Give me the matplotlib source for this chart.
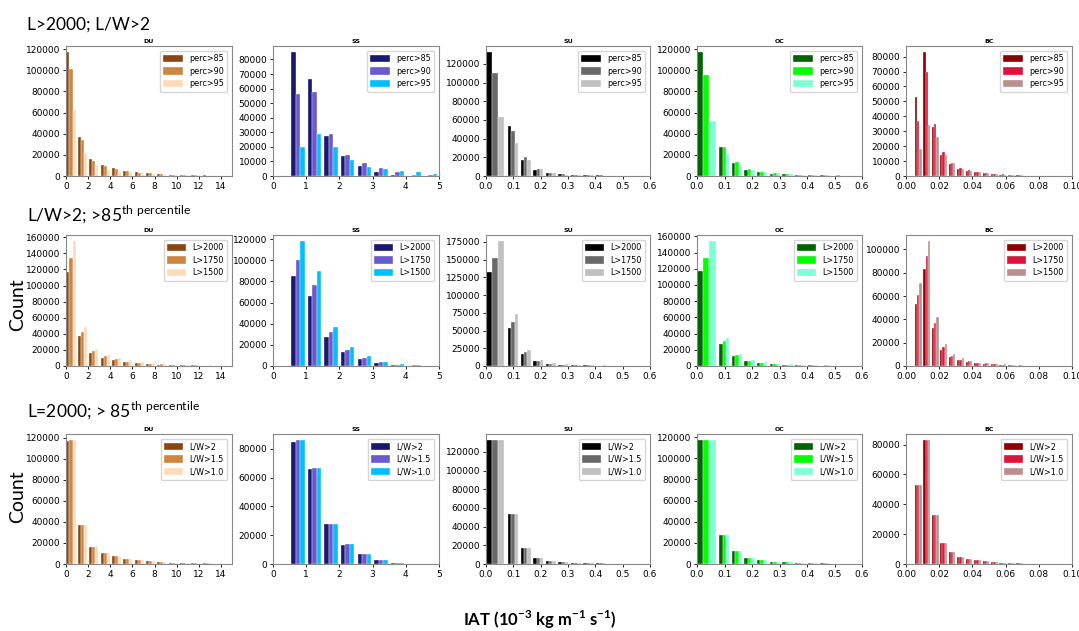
import numpy as np
import matplotlib
matplotlib.use('Agg')
import matplotlib.pyplot as plt
from matplotlib.ticker import MultipleLocator

# bin edges (x units of each species)
du_edges = [-0.08, 0.98, 2.0, 3.02, 4.05, 5.07, 6.1, 7.12, 8.15, 9.17, 10.2, 11.22, 12.25, 13.27, 14.3]
ss_edges = [0.5, 1.0, 1.5, 2.0, 2.5, 3.0, 3.5, 4.0, 4.5, 5.0]
su_edges = [-0.01, 0.076, 0.122, 0.168, 0.214, 0.26, 0.306, 0.352, 0.398, 0.444, 0.49, 0.536, 0.582]
oc_edges = [-0.01, 0.076, 0.122, 0.168, 0.214, 0.26, 0.306, 0.352, 0.398, 0.444, 0.49, 0.536, 0.582]
bc_edges = [0.0048, 0.0099, 0.015, 0.0201, 0.0252, 0.0303, 0.0354, 0.0405, 0.0456, 0.0507, 0.0558, 0.0609, 0.066, 0.0711]

# row 1: L>2000; L/W>2 -- perc>85, perc>90, perc>95
du_perc = [
	[117000, 37000, 16500, 10500, 7500, 5000, 3500, 2500, 1800, 1300, 1000, 700, 500, 400],
	[101000, 34000, 14000, 9000, 6500, 4700, 3300, 2400, 1600, 1200, 900, 600, 450, 350],
	[62000, 22000, 10000, 6000, 4500, 3500, 2500, 1800, 1200, 900, 700, 500, 350, 250]]
ss_perc = [
	[85000, 66500, 27500, 13500, 7000, 3000, 1000, 300, 100],
	[56000, 57500, 28500, 14500, 9000, 5500, 2500, 1000, 500],
	[20000, 28500, 20000, 11000, 6000, 5000, 3500, 2800, 1500]]
su_perc = [
	[132500, 53000, 17000, 6500, 3000, 1800, 1200, 800, 600, 400, 300, 200],
	[110000, 48000, 20000, 8000, 3500, 2000, 1300, 900, 600, 400, 300, 200],
	[63000, 35000, 17000, 8000, 3000, 1500, 1000, 700, 500, 300, 200, 150]]
oc_perc = [
	[117000, 27500, 12000, 6000, 3500, 2000, 1500, 1200, 800, 600, 400, 300],
	[95000, 27500, 13500, 6500, 4000, 2500, 1800, 1300, 900, 700, 500, 400],
	[52000, 21000, 10500, 6000, 3500, 2500, 1500, 1000, 800, 600, 400, 300]]
bc_perc = [
	[53000, 83000, 33000, 14000, 8000, 5000, 3500, 2500, 2000, 1300, 1000, 700, 400],
	[37000, 70000, 35000, 16000, 9000, 5500, 4000, 2800, 2200, 1500, 1200, 800, 500],
	[18000, 34000, 26000, 14000, 8500, 5000, 3500, 2500, 2000, 1400, 1000, 700, 400]]

# row 2: L/W>2; >85th percentile -- L>2000, L>1750, L>1500
du_len = [
	[117000, 37000, 16500, 10500, 7500, 5000, 3500, 2500, 1800, 1300, 1000, 700, 500, 400],
	[134000, 42000, 19000, 12000, 9000, 5500, 4000, 3000, 2100, 1500, 1100, 800, 600, 450],
	[155000, 48000, 21500, 14000, 9500, 7000, 4500, 3300, 2400, 1700, 1300, 900, 700, 500]]
ss_len = [
	[85000, 66000, 27500, 13500, 7000, 3000, 1200, 400, 100],
	[100000, 77000, 32000, 15500, 8000, 3500, 1300, 500, 100],
	[118000, 90000, 37000, 18000, 9000, 4000, 1500, 600, 150]]
su_len = [
	[132500, 53000, 17000, 6500, 3000, 1800, 1200, 800, 600, 400, 300, 200],
	[152000, 62000, 19500, 7500, 3500, 2000, 1300, 900, 700, 500, 350, 250],
	[176000, 73000, 22000, 8500, 4000, 2300, 1500, 1000, 800, 550, 400, 300]]
oc_len = [
	[117000, 27500, 12000, 6000, 3500, 2000, 1500, 1200, 800, 600, 400, 300],
	[133000, 31000, 13500, 6500, 4000, 2300, 1700, 1300, 900, 700, 500, 350],
	[154000, 35000, 15000, 7500, 4500, 2600, 1900, 1500, 1000, 800, 600, 400]]
bc_len = [
	[53000, 83000, 33000, 14000, 8000, 5000, 3500, 2500, 2000, 1300, 1000, 700, 400],
	[61000, 94000, 37000, 16500, 9000, 5500, 4000, 2800, 2200, 1500, 1100, 800, 500],
	[71000, 107000, 42000, 18500, 10000, 6500, 4500, 3000, 2500, 1700, 1300, 900, 600]]

# row 3: L=2000; >85th percentile -- L/W>2, L/W>1.5, L/W>1.0
du_lw = [
	[117000, 37000, 16500, 10500, 7500, 5000, 3500, 2500, 1800, 1300, 1000, 700, 500, 400],
	[117500, 37200, 16600, 10600, 7500, 5000, 3500, 2500, 1800, 1300, 1000, 700, 500, 400],
	[117600, 37300, 16700, 10600, 7600, 5100, 3500, 2500, 1800, 1300, 1000, 700, 500, 400]]
ss_lw = [
	[85000, 66000, 27500, 13500, 7000, 3000, 1000, 300, 100],
	[86000, 66500, 27800, 13700, 7200, 3100, 1000, 300, 100],
	[86000, 66600, 27800, 13700, 7200, 3100, 1000, 300, 100]]
su_lw = [
	[132500, 53000, 17000, 6500, 3000, 1800, 1200, 800, 600, 400, 300, 200],
	[132500, 53000, 17000, 6500, 3000, 1800, 1200, 800, 600, 400, 300, 200],
	[132500, 53000, 17000, 6500, 3000, 1800, 1200, 800, 600, 400, 300, 200]]
oc_lw = [
	[117000, 27500, 12000, 6000, 3500, 2000, 1500, 1200, 800, 600, 400, 300],
	[117000, 27600, 12000, 6000, 3500, 2000, 1500, 1200, 800, 600, 400, 300],
	[117000, 27600, 12000, 6000, 3500, 2000, 1500, 1200, 800, 600, 400, 300]]
bc_lw = [
	[53000, 83000, 33000, 14000, 8000, 5000, 3500, 2500, 2000, 1300, 1000, 700, 400],
	[53000, 83000, 33000, 14000, 8000, 5000, 3500, 2500, 2000, 1300, 1000, 700, 400],
	[53000, 83000, 33000, 14000, 8000, 5000, 3500, 2500, 2000, 1300, 1000, 700, 400]]

species = ['DU', 'SS', 'SU', 'OC', 'BC']
edges = [du_edges, ss_edges, su_edges, oc_edges, bc_edges]
rows = [
	[du_perc, ss_perc, su_perc, oc_perc, bc_perc],
	[du_len, ss_len, su_len, oc_len, bc_len],
	[du_lw, ss_lw, su_lw, oc_lw, bc_lw]]
legend_names = [
	['perc>85', 'perc>90', 'perc>95'],
	['L>2000', 'L>1750', 'L>1500'],
	['L/W>2', 'L/W>1.5', 'L/W>1.0']]
row_titles = [
	'L>2000; L/W>2',
	r'L/W>2; >85$^{\mathrm{th\ percentile}}$',
	r'L=2000; > 85$^{\mathrm{th\ percentile}}$']

colors = [
	['#8b4513', '#cd853f', '#ffdab9'],
	['#191970', '#6a5acd', '#00bfff'],
	['#000000', '#696969', '#c0c0c0'],
	['#006400', '#00ff00', '#7fffd4'],
	['#8b0000', '#dc143c', '#bc8f8f']]
xlims = [(0, 15), (0, 5), (0, 0.6), (0, 0.6), (0, 0.1)]
xsteps = [2, 1, 0.1, 0.1, 0.02]
ysteps = [
	[20000, 10000, 20000, 20000, 10000],
	[20000, 20000, 25000, 20000, 20000],
	[20000, 20000, 20000, 20000, 20000]]

# pixel boxes of the panels (left, right) / (top, bottom)
col_px = [(66, 232), (273, 439), (486, 650), (697, 862), (906, 1072)]
row_px = [(46, 176), (235, 366), (434, 564)]
W, H = 1079, 631

plt.rcParams['mathtext.fontset'] = 'custom'
plt.rcParams['mathtext.rm'] = 'Lato'
plt.rcParams['mathtext.bf'] = 'Lato:bold'


def draw(ax, bins, series, names, cols, title, xlim, xstep, ystep):
	bins = np.asarray(bins)
	w = np.diff(bins)
	c = bins[:-1] + w / 2
	bw = 0.8 * w / len(series)
	for k, vals in enumerate(series):
		ax.bar(c + (k - 1) * bw, vals, width=bw, color=cols[k],
			edgecolor='white', linewidth=0.25, label=names[k])
	ax.set_xlim(*xlim)
	ax.xaxis.set_major_locator(MultipleLocator(xstep))
	ax.yaxis.set_major_locator(MultipleLocator(ystep))
	ax.set_title(title, fontsize=4.5, fontweight='bold', pad=2)
	ax.tick_params(labelsize=6.5, length=2.5, width=0.6, pad=1.5)
	for s in ax.spines.values():
		s.set_color('#888888')
		s.set_linewidth(0.8)
	ax.legend(loc='upper right', fontsize=5.8, handlelength=2.4, handleheight=1.0,
		labelspacing=0.45, borderpad=0.4, borderaxespad=0.6, edgecolor='#cccccc',
		fancybox=True)


def main():
	fig = plt.figure(figsize=(W / 100, H / 100), dpi=100)
	for r in range(3):
		top, bot = row_px[r]
		for j in range(5):
			left, right = col_px[j]
			ax = fig.add_axes([left / W, 1 - bot / H, (right - left) / W, (bot - top) / H])
			draw(ax, edges[j], rows[r][j], legend_names[r], colors[j], species[j],
				xlims[j], xsteps[j], ysteps[r][j])

	heads_y = [30, 221, 417]
	for r in range(3):
		fig.text(27 / W, 1 - heads_y[r] / H, row_titles[r], fontsize=12.5,
			family='Lato', va='baseline', ha='left')

	for yc in [305, 497]:
		fig.text(18 / W, 1 - yc / H, 'Count', fontsize=14, family='Lato',
			rotation=90, ha='center', va='center')

	fig.text(540 / W, 1 - 620 / H,
		r'IAT (10$^{\mathbf{-3}}$ kg m$^{\mathbf{-1}}$ s$^{\mathbf{-1}}$)',
		fontsize=12, family='Lato', fontweight='bold', ha='center', va='center')

	fig.savefig('out.png', dpi=100)


if __name__ == '__main__':
	main()
